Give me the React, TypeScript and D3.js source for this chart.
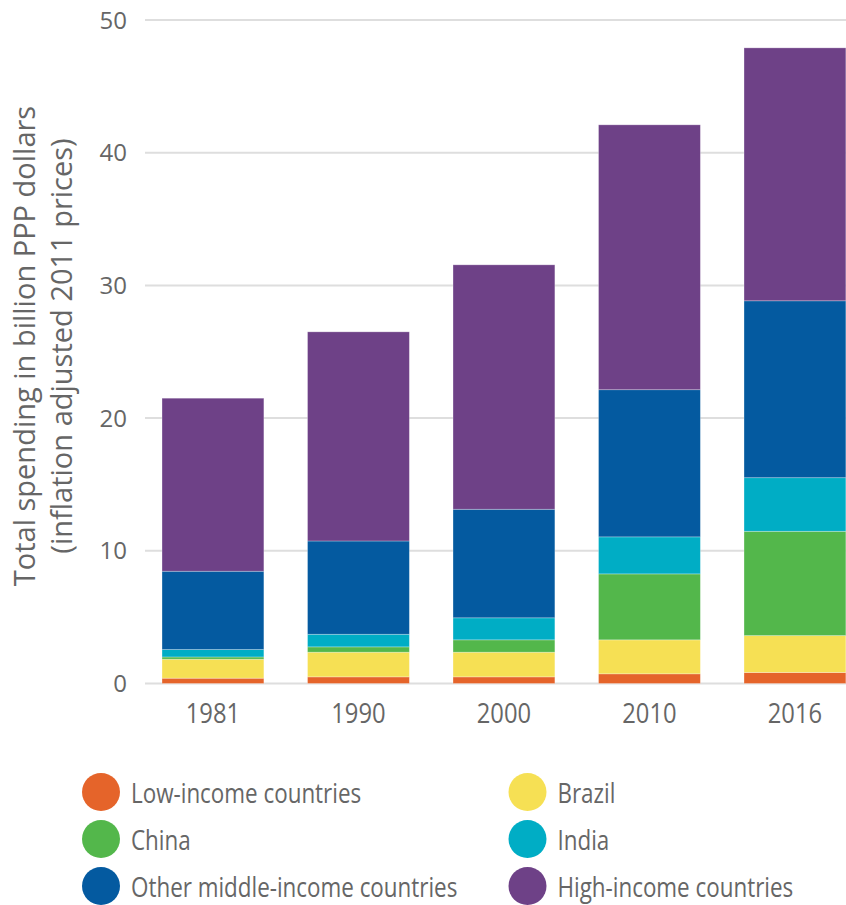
import React from "react";
import * as d3 from "d3";

const years = ["1981", "1990", "2000", "2010", "2016"];
const seriesNames = [
  "Low-income countries",
  "Brazil",
  "China",
  "India",
  "Other middle-income countries",
  "High-income countries",
];
const lowIncome = [0.4, 0.5, 0.5, 0.73, 0.83];
const brazil = [1.43, 1.86, 1.86, 2.56, 2.78];
const china = [0.17, 0.4, 0.93, 4.97, 7.86];
const india = [0.56, 0.95, 1.66, 2.79, 4.04];
const otherMiddle = [5.9, 7.03, 8.18, 11.09, 13.33];
const highIncome = [13.04, 15.76, 18.42, 19.96, 19.06];
const colors = ["#E5642A", "#F6E054", "#53B74B", "#00ADC5", "#045AA0", "#6E4187"];
const yTicks = [0, 10, 20, 30, 40, 50];
const legendOrder = [
  "Low-income countries",
  "Brazil",
  "China",
  "India",
  "Other middle-income countries",
  "High-income countries",
];

const W = 846;
const H = 905;
const font = "'Open Sans', sans-serif";
const axisScale = 0.88;
const legendScale = 0.83;

export default function App() {
  const values = [lowIncome, brazil, china, india, otherMiddle, highIncome];
  const rows = years.map((y, i) => {
    const r: any = { year: y };
    seriesNames.forEach((s, k) => (r[s] = values[k][i]));
    return r;
  });
  const stack = d3.stack<any>().keys(seriesNames)(rows);
  const y = d3.scaleLinear().domain([0, 50]).range([683.5, 20]);
  const x = d3
    .scaleBand<string>()
    .domain(years)
    .range([140.2, 867.7])
    .paddingInner(0.3)
    .paddingOuter(0.15);
  const color = d3.scaleOrdinal<string, string>().domain(seriesNames).range(colors);

  return (
    <svg
      width={W}
      height={H}
      style={{ position: "absolute", left: 0, top: 0, background: "#fff" }}
    >
      {yTicks.map((t) => (
        <g key={t}>
          <line x1={145} x2={W} y1={y(t)} y2={y(t)} stroke="#dedede" strokeWidth={2} />
          <text
            x={127}
            y={y(t)}
            dy="0.36em"
            textAnchor="end"
            fontFamily={font}
            fontSize={24}
            fill="#666"
          >
            {t}
          </text>
        </g>
      ))}
      {stack.map((layer) => (
        <g key={layer.key} fill={color(layer.key)}>
          {layer.map((d: any, i: number) => (
            <rect
              key={i}
              x={x(d.data.year)}
              width={x.bandwidth()}
              y={y(d[1])}
              height={y(d[0]) - y(d[1])}
              stroke="#ffffff"
              strokeOpacity={0.35}
              strokeWidth={0.8}
            />
          ))}
        </g>
      ))}
      {years.map((yr) => (
        <text
          key={yr}
          transform={`translate(${(x(yr) as number) + x.bandwidth() / 2}, 723) scale(${axisScale}, 1)`}
          textAnchor="middle"
          fontFamily={font}
          fontSize={27}
          fill="#666"
        >
          {yr}
        </text>
      ))}
      <text
        transform={`translate(35, 346) rotate(-90)`}
        textAnchor="middle"
        fontFamily={font}
        fontSize={29}
        fill="#666"
      >
        <tspan x={0} dy={0}>Total spending in billion PPP dollars</tspan>
        <tspan x={0} dy={37}>(inflation adjusted 2011 prices)</tspan>
      </text>
      {legendOrder.map((name, i) => {
        const col = i % 2;
        const row = Math.floor(i / 2);
        const cx = col === 0 ? 101 : 527.5;
        const cy = 792 + row * 47;
        return (
          <g key={name}>
            <circle cx={cx} cy={cy} r={19} fill={color(name)} />
            <text
              transform={`translate(${cx + 30}, ${cy + 10.5}) scale(${legendScale}, 1)`}
              fontFamily={font}
              fontSize={27}
              fill="#666"
            >
              {name}
            </text>
          </g>
        );
      })}
    </svg>
  );
}
